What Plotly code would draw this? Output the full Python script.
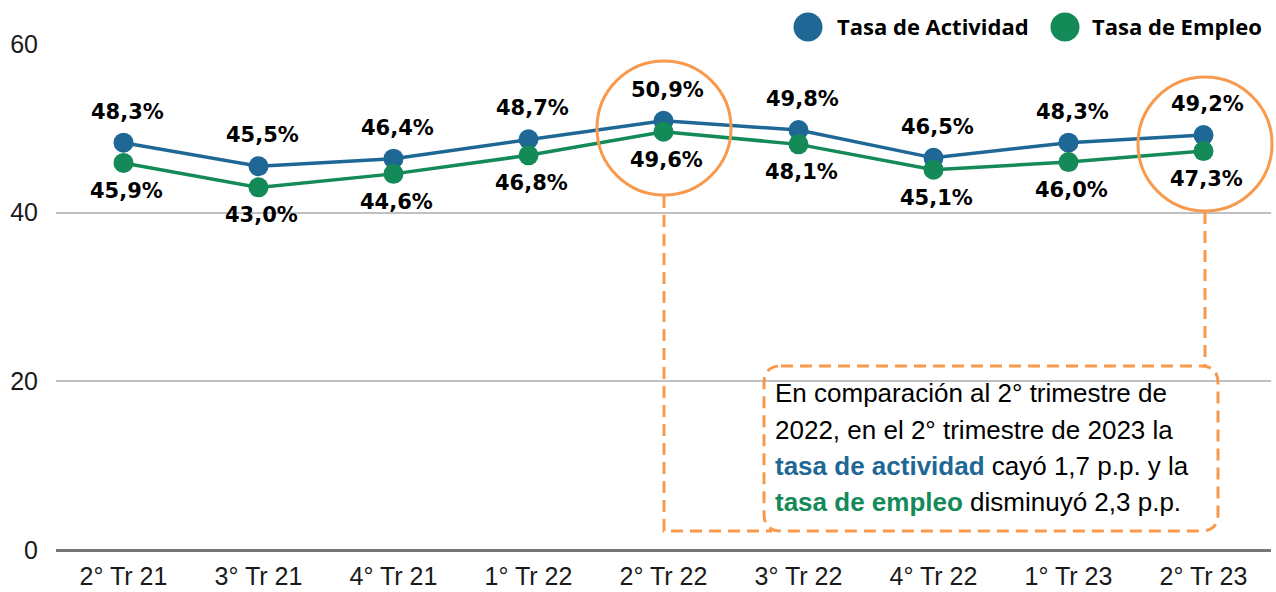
import plotly.graph_objects as go

categories = ["2° Tr 21", "3° Tr 21", "4° Tr 21", "1° Tr 22", "2° Tr 22",
              "3° Tr 22", "4° Tr 22", "1° Tr 23", "2° Tr 23"]
tasa_actividad = [48.3, 45.5, 46.4, 48.7, 50.9, 49.8, 46.5, 48.3, 49.2]
tasa_empleo = [45.9, 43.0, 44.6, 46.8, 49.6, 48.1, 45.1, 46.0, 47.3]
y_ticks = [0, 20, 40, 60]

BLUE = "#1F6896"
GREEN = "#138A57"
ORANGE = "#F79A4E"

W, H = 1276, 592
L, R, T, B = 56, 1271, 44, 550


def px(X):
    return (X - L) / (R - L)


def py(Y):
    return (B - Y) / (B - T)


def fmt(v):
    return f"{v:.1f}".replace(".", ",") + "%"


x_idx = list(range(len(categories)))

fig = go.Figure()
fig.add_trace(go.Scatter(
    x=x_idx, y=tasa_actividad, mode="lines+markers", name="Tasa de Actividad",
    line=dict(color=BLUE, width=3.5), marker=dict(color=BLUE, size=20),
    showlegend=False, hoverinfo="skip"))
fig.add_trace(go.Scatter(
    x=x_idx, y=tasa_empleo, mode="lines+markers", name="Tasa de Empleo",
    line=dict(color=GREEN, width=3.5), marker=dict(color=GREEN, size=20),
    showlegend=False, hoverinfo="skip"))

annotations = []
label_font = dict(family="DejaVu Sans", size=21, color="#000000")
for i, v in enumerate(tasa_actividad):
    annotations.append(dict(x=i, y=v, xref="x", yref="y", text=f"<b>{fmt(v)}</b>",
                            showarrow=False, yshift=31, xshift=4, font=label_font))
for i, v in enumerate(tasa_empleo):
    annotations.append(dict(x=i, y=v, xref="x", yref="y", text=f"<b>{fmt(v)}</b>",
                            showarrow=False, yshift=-28, xshift=3, font=label_font))

# legend (custom)
leg_font = dict(family="Open Sans", size=22, color="#000000")
annotations.append(dict(x=px(835), y=py(26), xref="paper", yref="paper",
                        text="<b>Tasa de Actividad</b>", showarrow=False,
                        xanchor="left", yanchor="middle", font=leg_font))
annotations.append(dict(x=px(1090), y=py(26), xref="paper", yref="paper",
                        text="<b>Tasa de Empleo</b>", showarrow=False,
                        xanchor="left", yanchor="middle", font=leg_font))

# text box lines
box_font = dict(family="Liberation Sans", size=26, color="#000000")
box_lines = [
    "En comparación al 2° trimestre de",
    "2022, en el 2° trimestre de 2023 la",
    f"<span style='color:{BLUE}'><b>tasa de actividad</b></span> cayó 1,7 p.p. y la",
    f"<span style='color:{GREEN}'><b>tasa de empleo</b></span> disminuyó 2,3 p.p.",
]
line_y = [393, 430, 466, 502]
for txt, yy in zip(box_lines, line_y):
    annotations.append(dict(x=px(773), y=py(yy), xref="paper", yref="paper",
                            text=txt, showarrow=False, xanchor="left",
                            yanchor="middle", font=box_font))

shapes = []
# legend circles
for cx, col in [(808, BLUE), (1065, GREEN)]:
    shapes.append(dict(type="circle", xref="paper", yref="paper",
                       xsizemode="pixel", ysizemode="pixel",
                       xanchor=px(cx), yanchor=py(27),
                       x0=-14.5, x1=14.5, y0=-14.5, y1=14.5,
                       fillcolor=col, line=dict(width=0)))

# orange highlight circles
for cx, cy in [(664, 128), (1205, 144)]:
    shapes.append(dict(type="circle", xref="paper", yref="paper",
                       xsizemode="pixel", ysizemode="pixel",
                       xanchor=px(cx), yanchor=py(cy),
                       x0=-67, x1=67, y0=-67, y1=67,
                       line=dict(color=ORANGE, width=3)))

dash = "12px,7px"


def P(X, Y):
    return f"{px(X):.5f},{py(Y):.5f}"


# connectors
shapes.append(dict(type="path", xref="paper", yref="paper",
                   path=f"M {P(664,196)} L {P(664,531)} L {P(772,531)}",
                   line=dict(color=ORANGE, width=3, dash=dash)))
shapes.append(dict(type="path", xref="paper", yref="paper",
                   path=f"M {P(1205,212)} L {P(1205,366)}",
                   line=dict(color=ORANGE, width=3, dash=dash)))

# rounded dashed box
bl, br, bt, bb, r = 764, 1218, 366, 531, 17
box_path = (f"M {P(bl+r,bt)} L {P(br-r,bt)} Q {P(br,bt)} {P(br,bt+r)} "
            f"L {P(br,bb-r)} Q {P(br,bb)} {P(br-r,bb)} L {P(bl+r,bb)} "
            f"Q {P(bl,bb)} {P(bl,bb-r)} L {P(bl,bt+r)} Q {P(bl,bt)} {P(bl+r,bt)} Z")
shapes.append(dict(type="path", xref="paper", yref="paper", path=box_path,
                   line=dict(color=ORANGE, width=3, dash=dash)))

fig.update_layout(
    width=W, height=H,
    margin=dict(l=L, r=W - R, t=T, b=H - B, autoexpand=False),
    paper_bgcolor="white", plot_bgcolor="white",
    showlegend=False,
    annotations=annotations,
    shapes=shapes,
    xaxis=dict(
        range=[-0.5, len(categories) - 0.5],
        tickmode="array", tickvals=x_idx, ticktext=categories,
        showgrid=False, zeroline=False, showline=False, ticks="",
        tickfont=dict(family="Liberation Sans", size=25, color="#1a1a1a"),
        ticklabelstandoff=9, fixedrange=True, automargin=False,
    ),
    yaxis=dict(
        range=[0, 60], tickmode="array", tickvals=y_ticks,
        showgrid=True, gridcolor="#C0C0C0", gridwidth=2,
        zeroline=True, zerolinecolor="#767676", zerolinewidth=3,
        showline=False, ticks="",
        tickfont=dict(family="Liberation Sans", size=25, color="#1a1a1a"),
        ticklabelstandoff=17, fixedrange=True, automargin=False,
    ),
)

fig.write_html("out.html", config={"displayModeBar": False})
